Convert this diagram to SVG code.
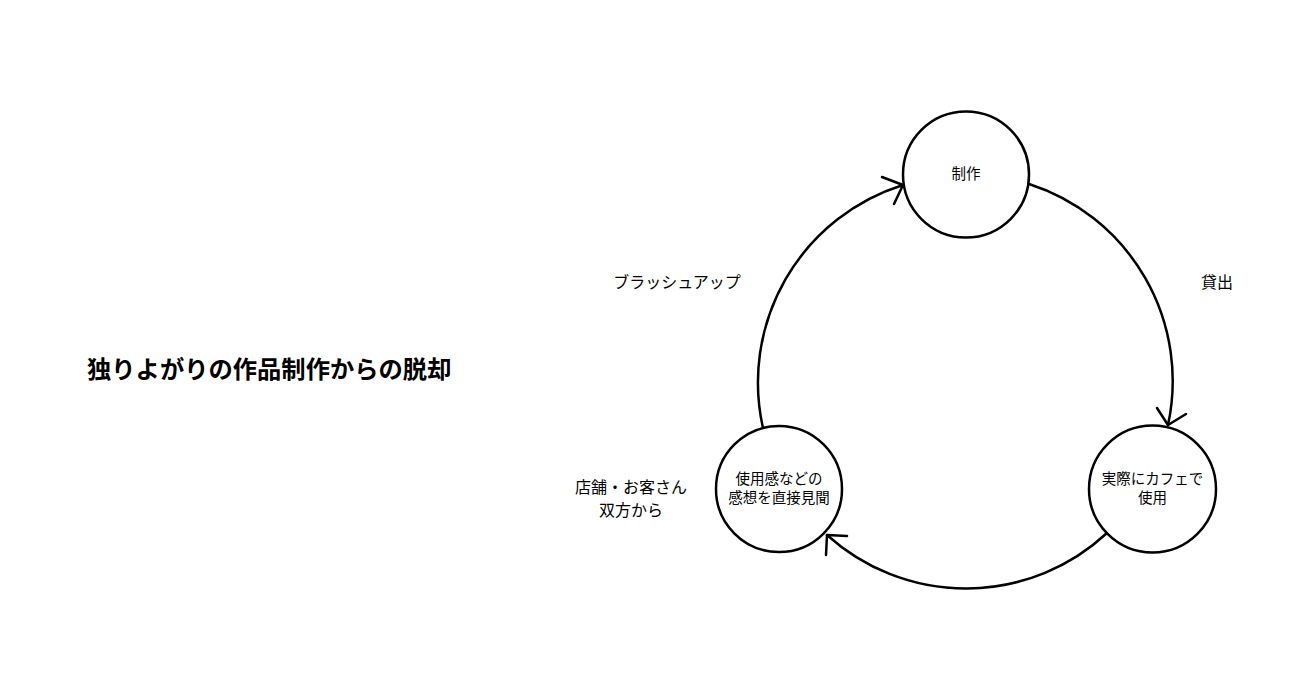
<svg xmlns="http://www.w3.org/2000/svg" width="1314" height="685" viewBox="0 0 1314 685">
<style>
.node{fill:#fff;stroke:#000;stroke-width:2.5}
.edge{fill:none;stroke:#000;stroke-width:2.5;stroke-linecap:round;stroke-linejoin:round}
text{font-family:"Noto Sans CJK JP","Noto Sans",sans-serif;fill:#000;text-anchor:middle;dominant-baseline:central}
.nt{font-size:14.5px}
.lb{font-size:16px}
.title{font-size:24.3px;font-weight:bold;text-anchor:start}
</style>
<rect width="1314" height="685" fill="#fff"/>
<g id="connectors">
<path class="edge" d="M1029,184 A207,207 0 0 1 1168,425"/>
<path class="edge" d="M1157,408 L1168,425 L1186,414"/>
<path class="edge" d="M1107,533 A207,207 0 0 1 827,535"/>
<path class="edge" d="M847,536 L827,535 L826,555"/>
<path class="edge" d="M763,428 A207,207 0 0 1 903,185"/>
<path class="edge" d="M882,177 L903,185 L894,204"/>
</g>
<g id="title"><text class="title" x="87" y="367">独りよがりの作品制作からの脱却</text></g>
<g id="node-seisaku">
<circle class="node" cx="966" cy="174.5" r="63"/>
<text class="nt" x="966" y="172.5">制作</text>
</g>
<g id="node-cafe">
<circle class="node" cx="1152.5" cy="489" r="63.5"/>
<text class="nt" x="1152.5" y="477.5">実際にカフェで</text>
<text class="nt" x="1152.5" y="496.5">使用</text>
</g>
<g id="node-kansou">
<circle class="node" cx="779" cy="489" r="63"/>
<text class="nt" x="779" y="477.5">使用感などの</text>
<text class="nt" x="779" y="496.5">感想を直接見聞</text>
</g>
<g id="labels">
<text class="lb" x="677" y="281">ブラッシュアップ</text>
<text class="lb" x="1217" y="281">貸出</text>
<text class="lb" x="631" y="486">店舗・お客さん</text>
<text class="lb" x="631" y="509">双方から</text>
</g>
</svg>
